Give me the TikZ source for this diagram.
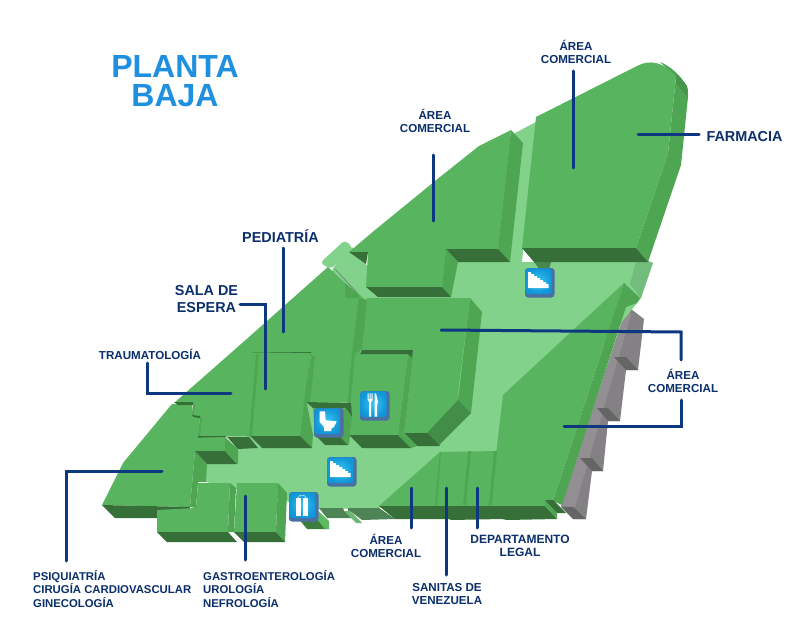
\documentclass[tikz,border=0pt]{standalone}
\usepackage{fontspec}
\setmainfont{Liberation Sans}
\definecolor{gtop}{HTML}{58B45E}
\definecolor{gside}{HTML}{4EA653}
\definecolor{gdark}{HTML}{366F37}
\definecolor{gfloor}{HTML}{82D28C}
\definecolor{gslab}{HTML}{4E8455}
\definecolor{gpale}{HTML}{72BC7C}
\definecolor{wlight}{HTML}{918F91}
\definecolor{wmid}{HTML}{838183}
\definecolor{wdark}{HTML}{666566}
\definecolor{navy}{HTML}{0D3880}
\definecolor{titleblue}{HTML}{1F8FE0}
\definecolor{labelnavy}{HTML}{0B2F6B}
\definecolor{iconshadow}{HTML}{4A6FA5}
\definecolor{icontop}{HTML}{38C6F3}
\definecolor{iconbot}{HTML}{1095D6}
\tikzset{
 topf/.style={fill=gtop},
 sidef/.style={fill=gside},
 darkf/.style={fill=gdark},
 floorf/.style={fill=gfloor},
 conn/.style={draw=navy,line width=3pt,line cap=round,line join=miter},
 lab/.style={text=labelnavy,font=\bfseries\fontsize{11.6}{13.5}\selectfont,align=center,inner sep=0pt},
 labl/.style={lab,font=\bfseries\fontsize{11.35}{13.5}\selectfont,align=left},
 labdep/.style={lab,font=\bfseries\fontsize{12}{13.5}\selectfont},
 labbig/.style={lab,font=\bfseries\fontsize{14.4}{16.5}\selectfont},
 title/.style={text=titleblue,font=\bfseries\fontsize{32}{29}\selectfont,align=center,inner sep=0pt},
 iconbox/.style={fill=iconshadow,rounded corners=3pt},
 glyph/.style={fill=white},
}
\newcommand{\tilebase}[1]{%
 \fill[iconbox] (#1) rectangle ++(29.5,29.5);
 \shade[rounded corners=3pt,inner color=icontop,outer color=iconbot] (#1) ++(0.4,0.4) rectangle ++(26.2,25.6);
}
\begin{document}
\begin{tikzpicture}[x=1pt,y=-1pt]
\useasboundingbox (0,0) rectangle (800,639);
\fill[white] (0,0) rectangle (800,639);
% wall
\fill[wmid] (627,306)--(644,319)--(638,370)--(626,370)--(620,421)--(608,421)--(603,471)--(592,471)--(586,519)--(573,519)--(561,506)--cycle;
\fill[wlight] (627,306)--(631,315)--(575,507)--(561,506)--cycle;
\fill[wdark] (614,357)--(626,357)--(638,370)--(626,370)--cycle;
\fill[wdark] (597,408)--(608,408)--(620,421)--(608,421)--cycle;
\fill[wdark] (580,458)--(592,458)--(603,471)--(592,471)--cycle;
\fill[wdark] (561,507)--(573,507)--(586,519)--(573,519)--cycle;
% floor
\fill[floorf] (515,133)--(536,122)--(522,262)--(648,262)--(641,298)--(560,400)--(500,470)--(379,508)--(319,509)--(206,482)--(206,464)--(300,400)--(333,268)--(352,247)--(366,264)--(380,298)--cycle;
\fill[floorf,rounded corners=4pt] (320,263)--(345,240)--(353,248)--(331,269)--cycle;
\fill[gpale] (630,284)--(636,262)--(648,261)--(653,263)--(641,298)--cycle;
\draw[gdark!40!wlight,line width=0.7pt] (335,269)--(361,297);
% slab
\fill[gslab] (319,508)--(343,508)--(344,511)--(348,511)--(348,508)--(379,508)--(395,519)--(362,520)--(350,511)--(353,518)--(327,518)--cycle;
\fill[gpale!80!gside] (344,511)--(350,511)--(362,523)--(356,523)--cycle;
\fill[gdark!75!gside] (298,518)--(319,516)--(327,529)--(307,529)--cycle;
\fill[gtop!85!gfloor] (317,510)--(329,521)--(329,529)--(325,529)--(316,518)--cycle;
\fill[gdark!75!gfloor] (534,262)--(551,262)--(549,270)--(540,270)--cycle;
% far right block
\fill[gside] (660,62) .. controls (675,68) and (690,85) .. (688,97)--(681,165)--(648,262)--(636,248)--(668,153)--(676,77)--cycle;
\fill[gside!90!black] (676,74) .. controls (682,79) and (688,85) .. (688,90)--(687,97)--(676,83)--cycle;
\fill[topf] (536,117)--(637,66) .. controls (650,59) and (664,62) .. (676,77)--(668,153)--(636,248)--(522,248)--cycle;
\fill[darkf] (522,248)--(636,248)--(648,262)--(534,262)--cycle;
% top middle block + left mass
\fill[topf] (511,130)--(479,146)--(440,177)--(375,230)--(349,252)--(368,252)--(366,287)--(442,287)--(446,249)--(498,249)--cycle;
\fill[sidef] (511,130)--(523,143)--(510,262)--(498,249)--cycle;
\fill[darkf] (446,249)--(498,249)--(510,262)--(458,262)--cycle;
\fill[sidef] (446,249)--(458,262)--(451,297)--(442,287)--cycle;
\fill[darkf] (366,287)--(442,287)--(451,297)--(378,297)--cycle;
\fill[darkf] (349,252)--(368,252)--(366,264)--cycle;
% central block with fork
\fill[topf] (367,298)--(470,298)--(458,393)--(458,400)--(427,433)--(404,433)--(413,358)--(408,354)--(360,354)--(362,350)--(366,302)--cycle;
\fill[sidef] (470,298)--(482,312)--(471,413)--(458,400)--cycle;
\fill[gside!85!black] (458,400)--(471,413)--(438,446)--(427,433)--cycle;
\fill[darkf] (404,433)--(427,433)--(440,446)--(417,446)--cycle;
% main pediatric block
\fill[topf] (328,267)--(232,352)--(311,352)--(306,402)--(351,402)--(351,430)--(349,435)--(398,435)--(408,354)--(360,354)--(366,302)--(363,298)--(345,283)--cycle;
\fill[sidef] (408,354)--(413,358)--(404,433)--(398,435)--cycle;
\fill[sidef] (359,298)--(367,300)--(362,350)--(355,353)--(348,432)--(345,432)--(352,353)--cycle;
\fill[sidef] (345,283)--(345,298)--(359,298)--(359,295)--cycle;
\fill[sidef] (311,356)--(315,356)--(310,402)--(306,402)--cycle;
\fill[darkf] (362,350)--(413,350)--(412,358)--(408,354)--(360,354)--cycle;
\fill[darkf] (232,352)--(311,352)--(311,356)--(234,355)--cycle;
\fill[darkf] (349,435)--(398,435)--(411,448)--(362,448)--cycle;
\fill[sidef] (398,435)--(411,448)--(417,446)--(404,433)--cycle;
\fill[topf] (313,408)--(345,408)--(338,436)--(315,436)--cycle;
\fill[darkf] (306,402)--(351,403)--(352,417)--(345,408)--(313,408)--cycle;
\fill[sidef] (345,407)--(352,417)--(349,445)--(338,435)--cycle;
\fill[darkf] (315,435)--(338,435)--(348,445)--(325,445)--cycle;
% sala de espera + traumatologia
\fill[topf] (232,352)--(311,353)--(300,436)--(198,437)--(200,417)--(192,415)--(193,404)--(174,403)--cycle;
\fill[sidef] (310,353)--(300,436)--(312,448)--(313,435)--(307,404)--cycle;
\fill[sidef] (256,354)--(259,354)--(252,436)--(249,436)--cycle;
\fill[darkf] (250,436)--(300,436)--(312,448)--(262,448)--cycle;
\fill[darkf] (227,437)--(249,437)--(258,448)--(238,449)--cycle;
% psiquiatria block
\fill[topf] (172,404)--(123,463)--(102,505)--(190,507)--(195,451)--(225,451)--(225,437)--(198,437)--(200,417)--(192,415)--(192,404)--cycle;
\fill[darkf] (174,402)--(193,402)--(193,405)--(182,405)--(178,405)--cycle;
\fill[sidef] (193,405)--(195,405)--(194,417)--(192,415)--cycle;
\fill[darkf] (192,415)--(200,416)--(200,418)--(194,417)--cycle;
\fill[sidef] (200,418)--(202,418)--(200,436)--(198,436)--cycle;
\fill[darkf] (198,436)--(225,436)--(227,437)--(198,437.6)--cycle;
\fill[sidef] (195,451)--(207,464)--(206,482)--(198,482)--(196,508)--(190,507)--cycle;
\fill[darkf] (195,451)--(225,451)--(237,464)--(207,464)--cycle;
\fill[sidef] (225,437)--(238,449)--(238,464)--(225,451)--cycle;
\fill[darkf] (102,505)--(190,507)--(190,510)--(157,510)--(157,518)--(115,518)--cycle;
% gastro blocks
\fill[topf] (157,510)--(196,508)--(198,483)--(230,483)--(228,532)--(157,532)--cycle;
\fill[sidef] (230,483)--(236,488)--(234,532)--(228,532)--cycle;
\fill[darkf] (157,532)--(228,532)--(237,542)--(167,542)--cycle;
\fill[topf] (237,483)--(278,483)--(276,532)--(234,532)--cycle;
\fill[sidef] (278,483)--(287,493)--(285,542)--(276,532)--cycle;
\fill[darkf] (234,532)--(276,532)--(285,542)--(244,542)--cycle;
% right big block
\fill[topf] (624,283)--(503,395)--(490,506)--(545,506)--(545,500)--(553,501)--cycle;
\fill[sidef] (624,283)--(640,298)--(637,303)--(626,307)--(562,505)--(553,501)--cycle;
\fill[topf] (379,506)--(440,452)--(496,451)--(491,506)--cycle;
\fill[sidef] (440,452)--(441,452)--(437,505)--(435,505)--cycle;
\fill[sidef] (468,451)--(471,451)--(466,505)--(463,505)--cycle;
\fill[sidef] (494,451)--(497,451)--(492,505)--(489,505)--cycle;
\fill[darkf] (379,506)--(545,506)--(557,519)--(507,520)--(502,519)--(452,520)--(448,519)--(395,519)--cycle;
\fill[sidef] (545,500)--(557,513)--(557,519)--(545,506)--cycle;
\fill[darkf] (545,500)--(553,500)--(566,513)--(557,513)--cycle;
% icons
\tilebase{525,268}
\begin{scope}[shift={(525,268)}]
 \fill[glyph] (3,4)--(6,4)--(6,6)--(9,6)--(9,8)--(12,8)--(12,10)--(15,10)--(15,12)--(18,12)--(18,14)--(21,14)--(21,16)--(23.5,16)--(23.5,20)--(3,20)--cycle;
\end{scope}
\tilebase{327,457}
\begin{scope}[shift={(327,457)}]
 \fill[glyph] (3,4)--(6,4)--(6,6)--(9,6)--(9,8)--(12,8)--(12,10)--(15,10)--(15,12)--(18,12)--(18,14)--(21,14)--(21,16)--(23.5,16)--(23.5,20)--(3,20)--cycle;
\end{scope}
\tilebase{314,408}
\begin{scope}[shift={(314,408)}]
 \fill[glyph] (5.7,3.3)--(11,3.3)--(11.7,12.3)--(22.7,13.3)--(20,19)--(17.3,20.7)--(17.3,23)--(10,23)--(10,19)--(5.7,14)--cycle;
\end{scope}
\tilebase{360,391}
\begin{scope}[shift={(360,391)}]
 \fill[glyph] (7.7,2.3)--(8.6,2.3)--(8.6,8)--(9.6,8)--(9.6,2.3)--(10.6,2.3)--(10.6,8)--(11.6,8)--(11.6,2.3)--(12.7,2.3)--(12.7,9)--(11.2,11)--(11.2,25.7)--(9.2,25.7)--(9.2,11)--(7.7,9)--cycle;
 \fill[glyph] (14.5,2.3)--(16,2.3)--(18,11)--(17,14)--(17,25.7)--(14.5,25.7)--cycle;
\end{scope}
\tilebase{289,492}
\begin{scope}[shift={(289,492)}]
 \fill[glyph] (7.3,6)--(12.3,6)--(12.3,24.3)--(7.3,24.3)--cycle;
 \fill[glyph] (13.5,6)--(18.7,6)--(18.7,24.3)--(13.5,24.3)--cycle;
 \draw[draw=white,line width=0.4pt] (9,6) .. controls (10,2) and (16,2) .. (17,6);
\end{scope}
% labels
\node[title] (ttl) at (175,81) {PLANTA\\BAJA};
\node[lab] (l1) at (576,52) {ÁREA\\COMERCIAL};
\node[labbig] (l2) at (744.5,137) {FARMACIA};
\node[lab] (l3) at (435,121) {ÁREA\\COMERCIAL};
\node[labbig] (l4) at (280.5,236) {PEDIATRÍA};
\node[labbig] (l5) at (206.5,299) {SALA DE\\ESPERA};
\node[lab] (l6) at (150,354) {TRAUMATOLOGÍA};
\node[labl,anchor=north west] (l7) at (33,570) {PSIQUIATRÍA\\CIRUGÍA CARDIOVASCULAR\\GINECOLOGÍA};
\node[labl,anchor=north west] (l8) at (203,570) {GASTROENTEROLOGÍA\\UROLOGÍA\\NEFROLOGÍA};
\node[lab] (l9) at (386,546) {ÁREA\\COMERCIAL};
\node[lab] (l10) at (447,594) {SANITAS DE\\VENEZUELA};
\node[labdep] (l11) at (520,546) {DEPARTAMENTO\\LEGAL};
\node[lab] (l12) at (683,381) {ÁREA\\COMERCIAL};
% connector ends
\coordinate (a1) at (573,71); \coordinate (b1) at (573,168);
\coordinate (a2) at (699,135); \coordinate (b2) at (638,135);
\coordinate (a3) at (433,155); \coordinate (b3) at (433,221);
\coordinate (a4) at (283,248); \coordinate (b4) at (283,332);
\coordinate (a5) at (240,304); \coordinate (c5) at (265,304); \coordinate (b5) at (265,389);
\coordinate (a6) at (147,363); \coordinate (c6) at (147,393); \coordinate (b6) at (231,393);
\coordinate (a7) at (66,561); \coordinate (c7) at (66,471); \coordinate (b7) at (162,471);
\coordinate (a8) at (245,560); \coordinate (b8) at (245,496);
\coordinate (a9) at (411,528); \coordinate (b9) at (411,488);
\coordinate (a10) at (446,575); \coordinate (b10) at (446,488);
\coordinate (a11) at (477,528); \coordinate (b11) at (477,488);
\coordinate (a12) at (681,360); \coordinate (c12) at (681,332); \coordinate (b12) at (441,330);
\coordinate (a13) at (681,400); \coordinate (c13) at (681,426); \coordinate (b13) at (564,426);
\draw[conn] (a1)--(b1);
\draw[conn] (a2)--(b2);
\draw[conn] (a3)--(b3);
\draw[conn] (a4)--(b4);
\draw[conn] (a5)--(c5)--(b5);
\draw[conn] (a6)--(c6)--(b6);
\draw[conn] (a7)--(c7)--(b7);
\draw[conn] (a8)--(b8);
\draw[conn] (a9)--(b9);
\draw[conn] (a10)--(b10);
\draw[conn] (a11)--(b11);
\draw[conn] (a12)--(c12)--(b12);
\draw[conn] (a13)--(c13)--(b13);
\end{tikzpicture}
\end{document}
